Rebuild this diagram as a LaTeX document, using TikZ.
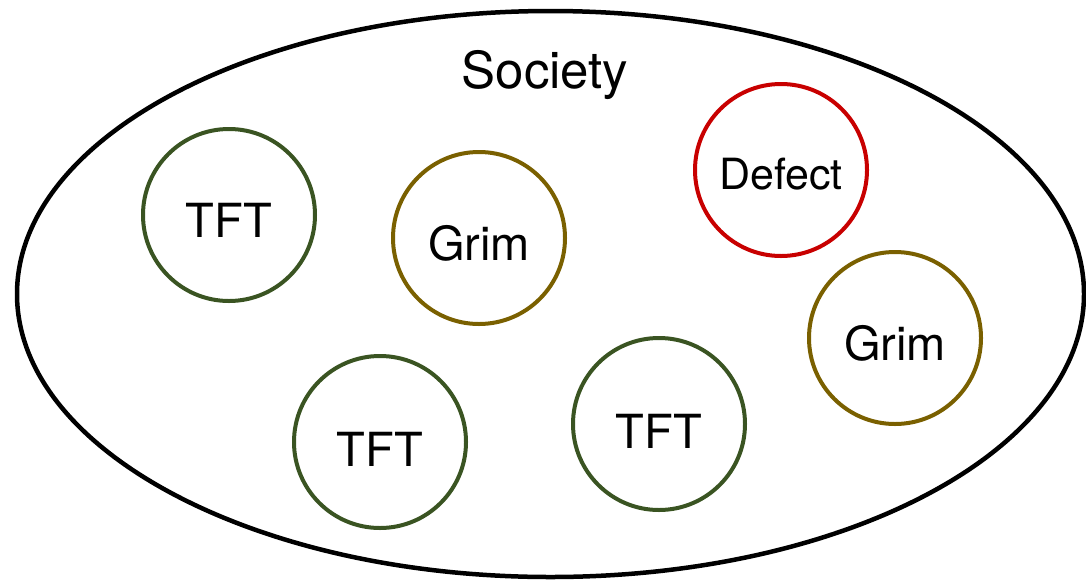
\documentclass[tikz,border=0pt]{standalone}
\usepackage{fontspec}
\setmainfont{TeX Gyre Heros}
\usepackage{tikz}
\usetikzlibrary{shapes}

\definecolor{tftgreen}{RGB}{58,84,34}
\definecolor{grimgold}{RGB}{122,96,0}
\definecolor{defred}{RGB}{200,0,0}

\tikzset{
	agent/.style={circle, draw, line width=4pt, minimum size=172pt, inner sep=0pt},
	strategy/.style={font=\fontsize{47}{50}\selectfont},
}

\begin{document}
\begin{tikzpicture}[x=1pt, y=-1pt]
		\useasboundingbox (0,0) rectangle (1086,579);
		\node at (550.5,294) [ellipse, draw, line width=4.5pt, minimum width=1067pt, minimum height=566pt] (S) {};
		\node at (545,75) [font=\fontsize{51}{54}\selectfont] (title) {Society};
		% the players
		\node at (229,215) [agent, draw=tftgreen] (tft1) {};
		\node at ([yshift=-5pt]tft1.center) [strategy] {TFT};
		\node at (479,238) [agent, draw=grimgold] (grim1) {};
		\node at ([yshift=-5pt]grim1.center) [strategy] {Grim};
		\node at (781,170) [agent, draw=defred] (def) {};
		\node at ([yshift=-4pt]def.center) [font=\fontsize{43}{46}\selectfont] {Defect};
		\node at (895,338) [agent, draw=grimgold] (grim2) {};
		\node at ([yshift=-5pt]grim2.center) [strategy] {Grim};
		\node at (380,442) [agent, draw=tftgreen] (tft2) {};
		\node at ([yshift=-7pt]tft2.center) [strategy] {TFT};
		\node at (659,424) [agent, draw=tftgreen] (tft3) {};
		\node at ([yshift=-7pt]tft3.center) [strategy] {TFT};
		\end{tikzpicture}
\end{document}
